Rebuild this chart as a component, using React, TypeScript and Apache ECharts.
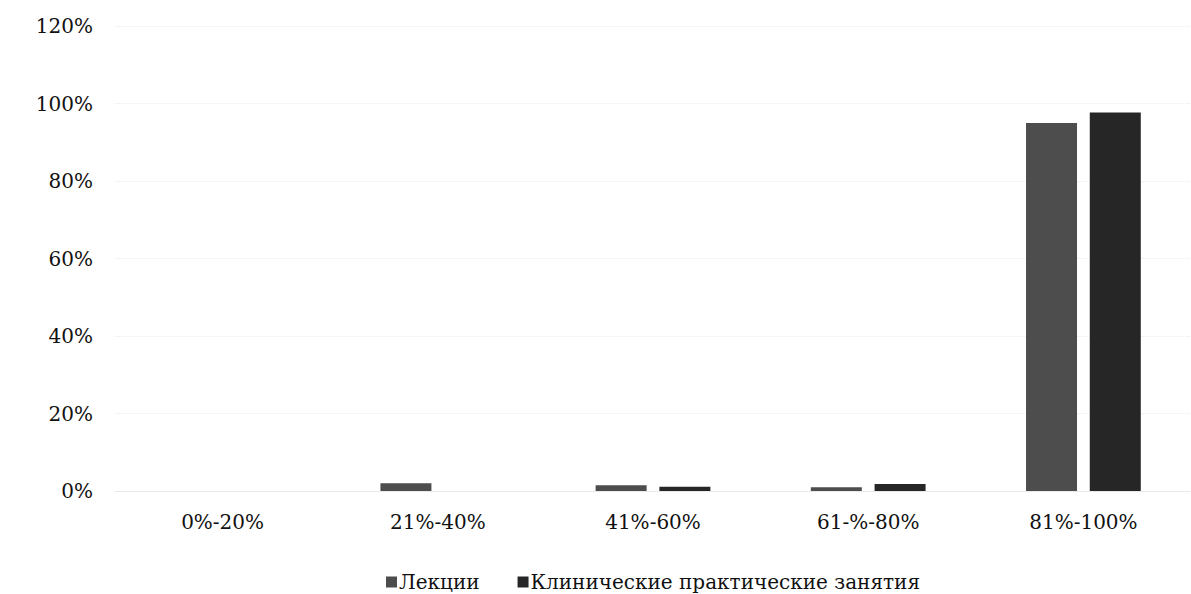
import React, { useEffect, useRef } from "react";
import * as echarts from "echarts";

const categories = ["0%-20%", "21%-40%", "41%-60%", "61-%-80%", "81%-100%"];
const lectures = [0, 2, 1.5, 1, 95];
const clinical = [0, 0, 1.1, 1.8, 97.7];
const seriesNames = ["Лекции", "Клинические практические занятия"];
const yTicks = { min: 0, max: 120, interval: 20 };

const FONT = "DejaVu Serif";

export default function App() {
  const ref = useRef<HTMLDivElement>(null);
  useEffect(() => {
    if (!ref.current) return;
    const chart = echarts.init(ref.current, null, { renderer: "svg" });
    chart.setOption({
      animation: false,
      backgroundColor: "#ffffff",
      textStyle: { fontFamily: FONT },
      grid: { left: 115, top: 26, width: 1130, height: 465 },
      legend: {
        left: 381,
        top: 567,
        itemWidth: 11,
        itemHeight: 11,
        itemGap: 38,
        icon: "rect",
        textStyle: { fontFamily: FONT, fontSize: 20, color: "#111", padding: [0, 0, 0, -3] },
        data: seriesNames,
      },
      xAxis: {
        type: "category",
        data: categories,
        axisLine: { show: true, lineStyle: { color: "#e4e4e4", type: "dotted" } },
        axisTick: { show: false },
        axisLabel: { color: "#111", fontFamily: FONT, fontSize: 20, margin: 21 },
      },
      yAxis: {
        type: "value",
        min: yTicks.min,
        max: yTicks.max,
        interval: yTicks.interval,
        axisLine: { show: false },
        axisTick: { show: false },
        splitLine: { show: true, lineStyle: { color: "#ececec", type: "dotted" } },
        axisLabel: {
          color: "#111",
          fontFamily: FONT,
          fontSize: 20,
          margin: 22,
          formatter: (v: number) => v + "%",
        },
      },
      series: [
        {
          name: seriesNames[0],
          type: "bar",
          data: lectures,
          barWidth: 51,
          barGap: "25%",
          itemStyle: { color: "#4d4d4d" },
        },
        {
          name: seriesNames[1],
          type: "bar",
          data: clinical,
          barWidth: 51,
          barGap: "25%",
          itemStyle: { color: "#262626" },
        },
      ],
    });
    return () => chart.dispose();
  }, []);
  return (
    <div
      ref={ref}
      style={{ position: "fixed", left: 0, top: 0, width: 1191, height: 594, background: "#fff" }}
    />
  );
}
